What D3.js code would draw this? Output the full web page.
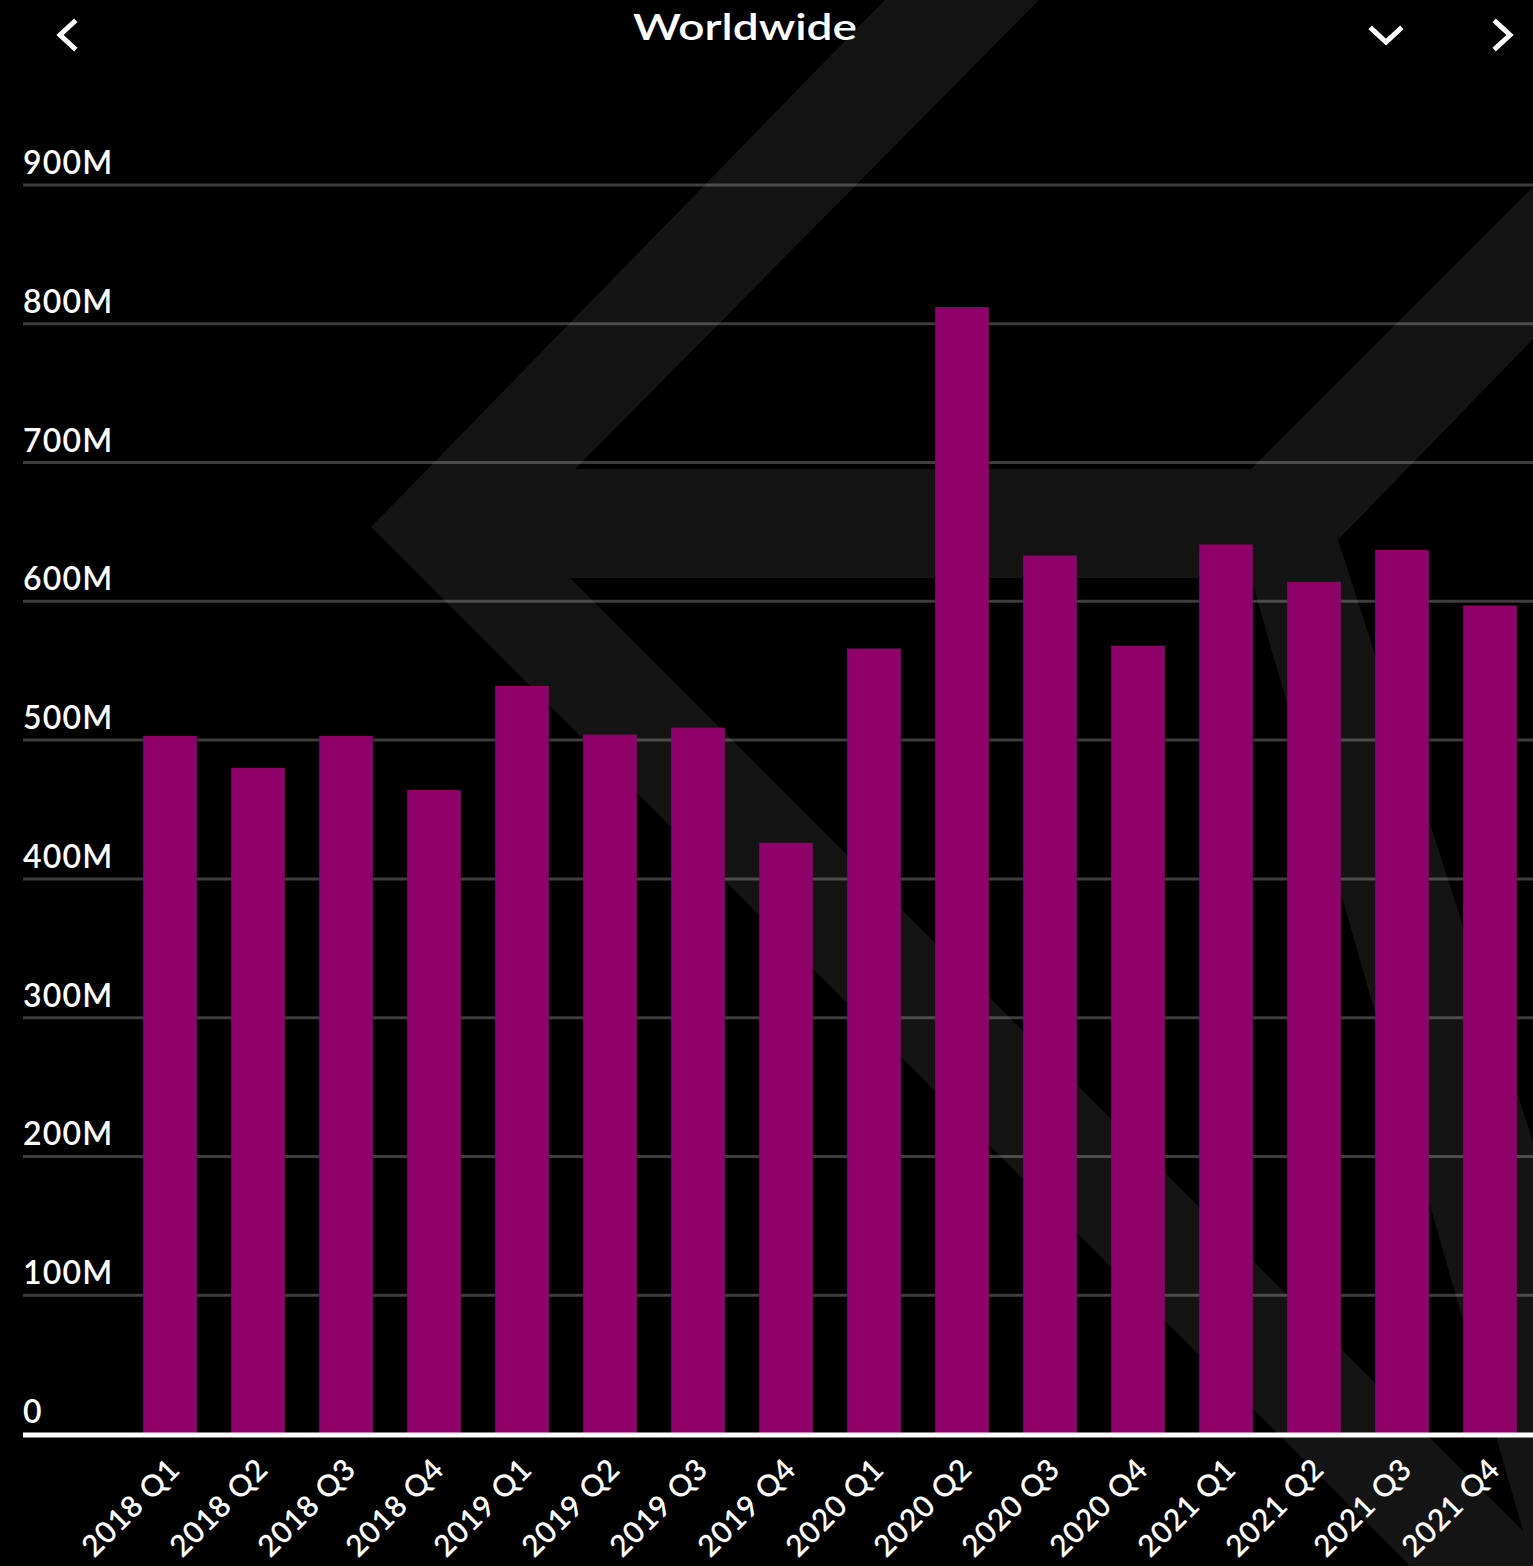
<!DOCTYPE html>
<html>
<head>
<meta charset="utf-8">
<script src="https://cdn.jsdelivr.net/npm/d3@7"></script>
<style>
  html, body { margin: 0; padding: 0; background: #000; }
  svg { display: block; }
  text { font-family: Lato, "Open Sans", sans-serif; fill: #fff; }
</style>
</head>
<body>
<div id="chart"></div>
<script>
// quarterly values, millions
const quarters = ["2018 Q1", "2018 Q2", "2018 Q3", "2018 Q4",
                  "2019 Q1", "2019 Q2", "2019 Q3", "2019 Q4",
                  "2020 Q1", "2020 Q2", "2020 Q3", "2020 Q4",
                  "2021 Q1", "2021 Q2", "2021 Q3", "2021 Q4"];
const values = [503, 480, 503, 464,
                539, 504, 509, 426,
                566, 812, 633, 568,
                641, 614, 637, 597];
const yTicks = [0, 100, 200, 300, 400, 500, 600, 700, 800, 900];
const title = "Worldwide";

const width = 1533, height = 1566;
const barColor = "#8f0068";

const svg = d3.select("#chart").append("svg")
    .attr("width", width)
    .attr("height", height);

svg.append("rect").attr("width", width).attr("height", height).attr("fill", "#000");

// faint logo watermark behind the chart
const mark = svg.append("g").attr("fill", "#141414");
mark.append("path").attr("d", d3.line()([
    [885, 0], [1039, 0], [575, 469], [1260, 469], [1260, 578], [570, 578],
    [1533, 1541], [1533, 1566], [1410, 1566], [371, 527]
]));
mark.append("path").attr("d", d3.line()([
    [1251, 469], [1533, 187], [1533, 339], [1338, 540],
    [1533, 1142], [1533, 1566], [1251, 578]
]));

const x = d3.scaleBand()
    .domain(quarters)
    .range([126, 1534])
    .paddingInner(0.39)
    .paddingOuter(0.195);

const y = d3.scaleLinear()
    .domain([0, 900])
    .range([1434, 185]);

// gridlines + tick labels
const grid = svg.append("g");
grid.selectAll("line")
    .data(yTicks.filter(d => d > 0))
    .join("line")
    .attr("x1", 23).attr("x2", width)
    .attr("y1", d => y(d)).attr("y2", d => y(d))
    .attr("stroke", "rgba(255,255,255,0.24)")
    .attr("stroke-width", 3);

grid.selectAll("text")
    .data(yTicks)
    .join("text")
    .attr("x", 23)
    .attr("y", d => y(d) - 11)
    .style("font-size", "32px")
    .style("font-weight", 600)
    .style("letter-spacing", "1.2px")
    .text(d => d === 0 ? "0" : d + "M");

// bars
svg.append("g").selectAll("rect")
    .data(values)
    .join("rect")
    .attr("x", (d, i) => x(quarters[i]))
    .attr("width", x.bandwidth())
    .attr("y", d => y(d))
    .attr("height", d => y(0) - y(d))
    .attr("fill", barColor);

// baseline
svg.append("line")
    .attr("x1", 23).attr("x2", width)
    .attr("y1", y(0) + 1).attr("y2", y(0) + 1)
    .attr("stroke", "#fff")
    .attr("stroke-width", 5);

// x labels, rotated
svg.append("g").selectAll("text")
    .data(quarters)
    .join("text")
    .attr("text-anchor", "end")
    .attr("transform", d => `translate(${x(d) + x.bandwidth() / 2 + 12},${y(0) + 37}) rotate(-45)`)
    .style("font-size", "30px")
    .style("font-weight", 600)
    .style("letter-spacing", "0.8px")
    .text(d => d);

// header
svg.append("text")
    .attr("x", 745).attr("y", 40)
    .attr("text-anchor", "middle")
    .attr("textLength", 224)
    .attr("lengthAdjust", "spacingAndGlyphs")
    .style("font-size", "36px")
    .style("font-weight", 600)
    .text(title);

const chevron = d3.line();
const icons = svg.append("g")
    .attr("fill", "none")
    .attr("stroke", "#fff")
    .attr("stroke-width", 5)
    .attr("stroke-linecap", "square");
icons.append("path").attr("d", chevron([[74, 22], [60, 35], [74, 48]]));
icons.append("path").attr("d", chevron([[1372, 29], [1386, 42], [1400, 29]]));
icons.append("path").attr("d", chevron([[1496, 22], [1510, 35], [1496, 48]]));
</script>
</body>
</html>
